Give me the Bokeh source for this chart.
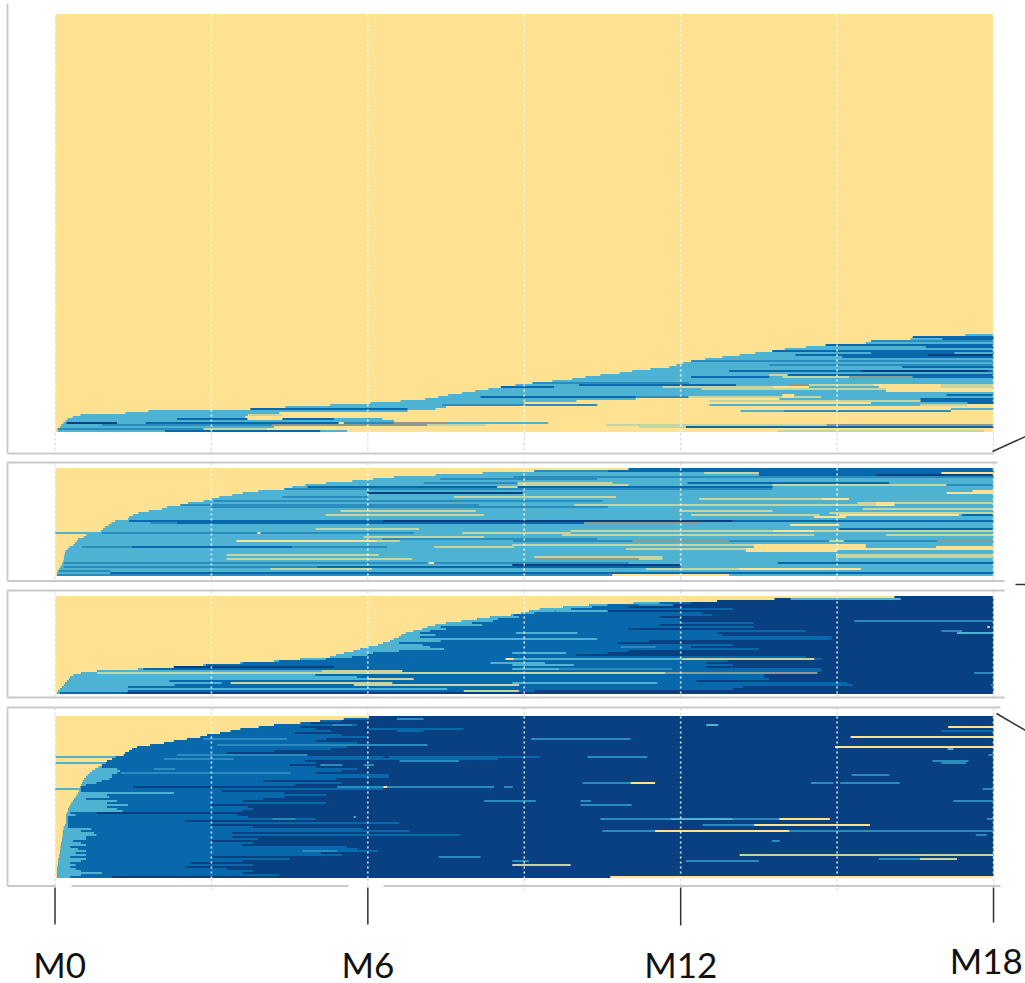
from bokeh.plotting import figure
from bokeh.models import Range1d, ColumnDataSource
from bokeh.core.properties import value
from bokeh.embed import file_html
from bokeh.resources import INLINE

# state colours
YEL, LIGHT, STRIPE, MID, DARK, SAGE, OLIVE = 0, 1, 2, 3, 4, 5, 6
state_colors = ["#FEE291", "#4EB3D3", "#2B8CBE", "#0868AC", "#084081", "#C6D4A0", "#8E9A8C"]

month_ticks = [0, 6, 12, 18]
month_labels = ["M0", "M6", "M12", "M18"]
minor_ticks = [3, 9, 15]

p1_full_rows = 159
p1_onset = [18.0,17.46,17.08,16.41,15.93,15.55,14.78,14.4,14.0,13.76,
            13.43,13.13,12.8,12.47,12.22,12.05,11.92,11.78,11.42,11.07,
            10.83,10.46,10.17,9.92,9.54,9.16,8.83,8.6,8.31,8.06,
            7.81,7.54,7.35,7.1,6.63,6.05,5.28,4.42,3.75,3.08,
            1.35,0.49,0.34,0.24,0.2,0.16,0.12,0.1,0.07,0.05]
p1_off = [18]*34 + [10.0,9.0,8.8,7.5,7.3,6.76,4.3,3.7,3.65,3.6,6.5,7.5,4.2,4.2,2.85,5.6]
p1_streaks = [
 (39,1.79,3.14,LIGHT),(38,3.75,6.76,MID),(32,8.16,11.14,MID),(36,7.43,10.4,STRIPE),
 (27,8.55,9.57,MID),(43,2.34,3.69,MID),(43,4.36,5.35,MID),(43,5.35,6.28,LIGHT),(41,3.72,4.36,SAGE),
 (45,0.22,1.19,DARK),(45,1.74,5.54,MID),(45,5.54,6.5,STRIPE),(45,6.5,7.52,OLIVE),(45,7.52,9.46,LIGHT),
 (45,5.44,5.54,YEL),(46,0.9,4.16,STRIPE),(46,4.16,7.14,OLIVE),(46,7.14,8.26,SAGE),
 (48,0.05,2.85,STRIPE),(48,2.85,4.07,SAGE),(49,2.11,5.09,MID),(49,5.09,5.57,LIGHT),
 (2,16.45,18,MID),(3,17.02,18,MID),(4,15.65,18,STRIPE),(6,14.78,18,MID),(7,16.7,18,MID),
 (9,13.76,18,MID),(10,15.65,18,MID),(10,17.25,18,LIGHT),(11,14.2,18,MID),(11,16.74,18,DARK),
 (12,15.1,18,MID),(14,12.2,18,STRIPE),(16,13.7,18,STRIPE),(17,16.25,18,MID),
 (19,12.93,18,MID),(19,15.46,17.9,DARK),(21,14.05,18,MID),(21,13.7,14.05,SAGE),
 (22,12.2,13.7,MID),(22,13.95,15.23,SAGE),(22,15.23,16.45,OLIVE),(22,16.45,18,MID),
 (25,9.16,12.16,STRIPE),(26,10.05,13.06,MID),(26,14.08,14.46,OLIVE),(26,14.46,15.68,SAGE),(26,15.68,17,YEL),(26,17,18,SAGE),
 (27,11.65,13.76,SAGE),(27,13.76,14.46,YEL),(27,15.8,17,YEL),(27,17,18,SAGE),
 (28,12.4,13.76,SAGE),(28,13.76,15.94,SAGE),(28,15.94,18,YEL),(29,15.94,18,YEL),
 (32,11.14,12.15,STRIPE),(32,12.15,13.95,SAGE),(32,13.95,14.18,YEL),(32,14.18,14.7,SAGE),(31,13.95,14.18,YEL),
 (31,17.1,18,MID),(33,11.14,13.89,YEL),(33,16.6,18,MID),(34,12.55,16.6,SAGE),(34,16.6,18,MID),
 (35,15.65,18,LIGHT),(35,17.5,18,MID),(36,12.55,16.6,LIGHT),(36,16.6,17.5,SAGE),
 (38,17.18,18,LIGHT),(39,13.15,17.18,LIGHT),(39,13.98,17.18,STRIPE),
 (46,10.57,11.66,SAGE),(46,11.66,14.8,SAGE),(46,14.8,18,OLIVE),(47,11.2,12.1,SAGE),(47,12.1,18,MID),
 (49,13.86,17.82,SAGE),
]

p2_onset = [11.0,9.19,8.2,7.3,6.5,6.1,5.7,5.2,4.8,4.55,4.4,3.9,3.6,3.4,3.15,3.0,2.85,2.55,2.4,2.15,
            2.05,1.8,1.6,1.5,1.42,1.4,1.15,1.08,1.03,0.96,0.92,0.88,0.75,0.6,0.55,0.44,0.42,0.38,0.35,0.28,
            0.24,0.2,0.19,0.18,0.17,0.17,0.16,0.14,0.13,0.1,0.08,0.05,0.04,0.04]
p2_streaks = [
 (5,7.39,10.4,STRIPE),(7,7.07,8.87,STRIPE),(9,4.84,13.76,MID),(10,4.4,13.76,STRIPE),(9,8.48,8.87,SAGE),
 (12,5.99,8.97,DARK),(14,4.36,5.99,STRIPE),(14,7.65,10.76,SAGE),(16,3.05,10.5,STRIPE),(18,2.41,8.13,STRIPE),
 (19,3.0,10.6,STRIPE),(21,5.48,8.07,SAGE),(23,5.19,8.23,SAGE),(26,1.42,2.34,MID),(26,2.34,6.28,MID),(26,6.28,13.0,DARK),
 (27,1.83,2.34,STRIPE),(27,2.34,10.15,MID),(30,5.0,6.98,SAGE),(32,0,0.9,LIGHT),(32,0.9,6.88,STRIPE),(32,3.88,3.94,YEL),(32,7.81,9.89,SAGE),
 (34,5.92,8.23,SAGE),(35,6.28,10.4,STRIPE),(36,3.48,6.18,YEL),(36,6.18,6.61,SAGE),(39,7.27,8.8,SAGE),
 (39,0.52,1.48,STRIPE),(39,1.48,4.55,MID),(39,4.55,6.37,STRIPE),(43,3.29,6.21,SAGE),(45,3.29,6.85,SAGE),
 (47,0.17,7.14,STRIPE),(47,7.17,7.27,YEL),(47,7.27,11.0,STRIPE),(49,0.17,5.03,STRIPE),(49,5.03,12.0,MID),
 (50,4.13,6.08,SAGE),(52,1.06,7.46,MID),(51,0.08,1.06,STRIPE),(52,7.46,18,MID),(53,0.04,10.69,STRIPE),
 (0,11.0,18,MID),(1,10.6,18,MID),(1,9.19,10.6,STRIPE),(2,13.5,18,MID),(2,12.45,13.5,SAGE),(3,13.5,18,MID),(3,15.74,18,DARK),
 (2,17.0,18,YEL),(4,8.8,18,STRIPE),(7,8.87,10.69,SAGE),(7,12.13,16.0,MID),(8,8.87,11.0,SAGE),(8,13.76,17.1,SAGE),(8,17.1,18,STRIPE),
 (11,17.6,18,YEL),(12,17.1,18,YEL),
 (15,12.35,14.7,SAGE),(15,14.7,15.23,YEL),(17,15.39,18,SAGE),(17,15.74,16.1,YEL),(18,9.96,15.74,SAGE),(18,15.74,16.1,YEL),
 (20,15.49,18,SAGE),(21,11.97,13.76,SAGE),(22,14.85,18,SAGE),(23,12.2,14.66,SAGE),(23,15.04,17.34,YEL),(23,17.4,18,MID),
 (24,14.56,15.17,YEL),(26,13.0,18,MID),(27,10.15,12.35,OLIVE),(28,14.1,15.04,YEL),(30,15.04,18,MID),
 (31,9.89,13.76,SAGE),(31,13.76,14.56,YEL),(31,14.56,18,SAGE),(33,9.73,13.54,SAGE),(33,13.54,14.56,SAGE),(33,15.94,18,SAGE),
 (36,8.78,11.08,STRIPE),(36,11.08,12.93,OLIVE),(36,12.93,14.85,STRIPE),(36,14.85,15.13,SAGE),(36,15.13,16.93,STRIPE),(36,16.93,18,OLIVE),
 (38,8.77,13.4,SAGE),(38,13.4,15.55,YEL),(39,13.4,15.55,YEL),(39,16.9,18,YEL),(40,10.95,13.25,SAGE),(40,13.25,18,YEL),(41,13.25,15.0,YEL),
 (43,14.98,18,SAGE),(44,14.98,18,SAGE),(44,9.19,11.65,SAGE),(45,9.19,11.2,OLIVE),(45,11.2,11.65,SAGE),
 (47,13.86,18,MID),(48,8.77,12.0,DARK),(50,11.33,13.12,SAGE),(50,13.12,15.46,YEL),(53,10.69,12.93,YEL),
]

p3_onset = [16.1,13.8,12.7,11.1,10.25,9.75,9.3,9.1,8.95,8.75,8.35,8.1,7.8,7.5,7.3,7.15,7.05,6.88,6.73,6.65,
            6.6,6.5,6.43,6.3,6.2,6.0,5.85,5.73,5.55,5.4,5.28,4.7,4.2,3.55,2.85,2.28,1.6,0.81,0.5,0.36,
            0.3,0.27,0.23,0.2,0.17,0.14,0.1,0.06,0.04]
p3_mid = [16.1,13.8,12.7,11.6,10.6,10.3,9.9,9.6,9.2,8.8,8.9,8.5,8.4,8.0,8.2,7.4,7.5,7.2,7.0,7.3,
          7.0,6.8,7.4,6.6,7.0,7.2,6.3,6.6,6.1,6.0,5.7,5.2,4.3,3.6,2.9,2.3,1.7,6.2,5.9,5.0,
          5.8,6.8,2.2,3.2,2.3,1.4,5.8,1.4,0.1]
p3_dark = [16.1,13.8,12.7,12.2,11.6,11.0,13.0,10.5,12.4,12.6,11.6,12.0,12.0,13.4,11.6,13.4,11.0,14.4,12.7,12.8,
           14.9,14.9,11.4,10.8,13.0,12.2,13.5,11.0,10.6,10.0,14.4,14.7,12.9,12.5,13.0,12.5,14.7,14.7,12.8,13.6,
           13.6,13.7,12.3,15.2,15.3,13.2,13.0,9.2,1.4]
p3_streaks = [
 (38,0.81,11.7,SAGE),(38,11.7,14.62,OLIVE),(37,5.12,6.66,SAGE),(41,5.99,6.88,SAGE),(43,3.37,6.47,SAGE),
 (44,5.73,8.9,SAGE),(47,7.84,8.9,SAGE),(31,8.64,8.8,YEL),(31,8.8,12.03,LIGHT),(31,12.03,14.56,SAGE),
 (35,2.28,5.35,DARK),(46,0.71,7.52,LIGHT),(14,7.3,8.1,LIGHT),(21,6.72,10.4,LIGHT),(24,6.2,7.05,LIGHT),(26,6.1,7.46,LIGHT),
 (33,8.35,9.4,LIGHT),(34,8.77,9.95,LIGHT),(7,9.6,10.6,LIGHT),(4,11.2,11.85,STRIPE),(1,14.11,16.22,LIGHT),(12,15.33,18,STRIPE),
 (18,8.84,10.02,LIGHT),(17,17.0,17.4,STRIPE),(18,17.3,18,LIGHT),(25,10.85,11.52,STRIPE),(28,8.77,9.8,LIGHT),(36,8.77,9.67,LIGHT),
 (36,9.67,11.84,STRIPE),(43,8.77,11.55,LIGHT),(38,17.63,18,STRIPE),(44,17.95,18,STRIPE),(48,1.38,8.78,DARK),(15,17.88,17.93,SAGE),
]

p4_onset = [6.02,5.54,5.09,4.71,4.2,3.91,3.56,3.37,3.17,2.92,2.79,2.53,2.28,2.09,1.83,1.58,1.48,1.42,1.35,1.32,
            1.16,1.1,1.0,0.97,0.9,0.84,0.78,0.71,0.67,0.63,0.6,0.57,0.54,0.52,0.51,0.49,0.48,0.46,0.44,0.42,
            0.4,0.37,0.35,0.32,0.3,0.28,0.26,0.25,0.23,0.22,0.22,0.22,0.21,0.21,0.2,0.17,0.17,0.16,0.16,0.15,
            0.15,0.14,0.14,0.12,0.12,0.11,0.11,0.1,0.1,0.09,0.09,0.07,0.07,0.06,0.06,0.05,0.05,0.05,0.04,0.04,0.04]
p4_mid = [6.02,5.54,5.09,4.71,4.2,3.91,3.56,3.37,3.17,2.92,2.79,2.53,2.28,2.09,1.83,1.58,1.48,1.42,1.35,1.32,
          1.16,1.1,1.0,0.97,0.9,0.9,1.2,1.25,1.2,1.1,1.1,1.05,0.9,0.8,0.6,0.5,0.5,0.5,0.9,1.0,
          1.05,0.6,1.2,1.0,1.4,1.0,1.2,1.3,0.3,0.4,0.25,0.25,0.25,0.25,0.25,0.25,0.7,0.5,0.75,0.8,
          0.6,0.6,0.35,0.5,0.6,0.3,0.45,0.6,0.4,0.6,0.3,0.6,0.5,0.3,0.4,0.3,0.4,0.5,0.9,0.5,0.3]
p4_dark = [6.02,6.02,5.5,4.9,5.8,4.7,5.0,5.3,4.6,5.5,6.0,5.2,5.0,5.8,7.0,5.6,5.3,4.2,3.3,4.4,
           6.3,8.5,4.8,5.0,4.5,5.0,5.8,5.5,5.0,6.4,5.0,5.4,4.0,5.5,4.6,1.5,6.3,3.2,4.4,5.2,
           4.4,4.0,3.6,5.2,3.0,3.7,3.8,3.6,0.8,3.5,3.7,5.0,2.5,6.5,3.0,3.8,5.9,6.8,3.4,7.4,
           3.4,3.9,3.0,3.8,3.6,5.6,5.8,6.2,5.1,5.5,3.0,4.5,3.6,2.6,3.8,2.5,3.3,3.8,3.6,4.3,1.1]
p4_streaks = [
 (20,0,1.16,LIGHT),(23,0,0.97,LIGHT),(36,0,0.48,LIGHT),
 (1,6.56,7.07,STRIPE),(4,5.32,5.7,STRIPE),(6,6.02,7.84,MID),(7,6.56,7.07,MID),(11,2.85,4.45,STRIPE),(14,3.11,7.14,STRIPE),
 (19,2.34,4.84,STRIPE),(20,6.4,9.3,MID),(21,2.09,3.43,STRIPE),(22,6.61,7.75,STRIPE),(24,5.09,5.51,STRIPE),(24,5.92,6.12,STRIPE),
 (26,1.9,2.31,STRIPE),(28,1.26,4.52,STRIPE),(30,3.96,6.4,MID),(35,5.41,8.42,STRIPE),(35,6.3,6.37,YEL),(35,8.61,8.78,STRIPE),
 (38,0.49,2.28,LIGHT),(42,8.23,9.22,STRIPE),(50,5.73,5.77,LIGHT),(51,4.17,4.61,STRIPE),(53,5.99,6.6,MID),(59,5.99,7.78,MID),
 (67,4.74,5.41,STRIPE),(70,7.36,8.16,STRIPE),
 (4,12.49,12.72,LIGHT),(5,17.13,18,YEL),(7,16.99,18,MID),(10,15.26,18,YEL),(11,9.13,11.04,STRIPE),(15,14.96,18,YEL),(16,17.12,17.23,LIGHT),
 (19,17.9,18,STRIPE),(20,10.21,11.36,STRIPE),(22,16.83,17.52,STRIPE),(23,17.0,17.47,STRIPE),(29,15.28,16.0,STRIPE),
 (33,10.12,11.04,STRIPE),(33,11.04,11.51,YEL),(33,14.5,14.93,STRIPE),(33,15.06,16.2,STRIPE),(36,17.79,18,STRIPE),
 (42,10.08,10.28,STRIPE),(42,17.23,18,STRIPE),(44,10.08,11.06,STRIPE),
 (51,10.46,11.81,STRIPE),(51,11.81,13.0,LIGHT),(51,13.0,13.89,STRIPE),(51,13.89,14.86,YEL),(51,17.87,18,STRIPE),
 (54,12.42,13.41,STRIPE),(54,13.41,15.63,YEL),(57,10.5,11.51,STRIPE),(57,11.51,14.09,YEL),(57,14.09,18,STRIPE),
 (59,17.66,17.87,STRIPE),(62,13.75,13.9,STRIPE),(69,13.13,18,SAGE),(71,15.8,16.59,STRIPE),(71,16.59,17.3,SAGE),
 (72,12.1,13.5,STRIPE),(72,8.77,9.09,STRIPE),(74,8.77,9.89,SAGE),(80,10.65,18,YEL),
]

# ---- layout (reference pixels) ----
ROW = 2.0
PX_PER_MONTH = 52.14
X0 = 54.5
W, H = 1025, 983
P1_TOP, P2_TOP, P3_TOP, P4_TOP = 13.5, 467.5, 595.5, 715.5

p = figure(width=W, height=H, output_backend="svg", toolbar_location=None,
           x_range=Range1d(-X0 / PX_PER_MONTH, (W - X0) / PX_PER_MONTH),
           y_range=Range1d(H, 0), min_border=0, outline_line_color=None)
p.axis.visible = False
p.grid.visible = False

L, R, T, B, C = [], [], [], [], []
def cell(top, r, a, b, s):
    if b <= a:
        return
    L.append(a); R.append(b)
    T.append(top + ROW * r); B.append(top + ROW * (r + 1))
    C.append(state_colors[s])

def backing(top, rows, s):
    L.append(0); R.append(18); T.append(top); B.append(top + ROW * rows); C.append(state_colors[s])

# big yellow block of panel 1
backing(P1_TOP, p1_full_rows + len(p1_onset), YEL)
p1_start = P1_TOP + ROW * p1_full_rows
for r, (on, off) in enumerate(zip(p1_onset, p1_off)):
    cell(p1_start, r, on, off, LIGHT)
for r, a, b, s in p1_streaks:
    cell(p1_start, r, a, b, s)

backing(P2_TOP, len(p2_onset), LIGHT)
for r, on in enumerate(p2_onset):
    cell(P2_TOP, r, 0, on, YEL)
for r, a, b, s in p2_streaks:
    cell(P2_TOP, r, a, b, s)

for top, onset, mid, dark, streaks in [(P3_TOP, p3_onset, p3_mid, p3_dark, p3_streaks),
                                       (P4_TOP, p4_onset, p4_mid, p4_dark, p4_streaks)]:
    backing(top, len(onset), DARK)
    for r, (on, m, d) in enumerate(zip(onset, mid, dark)):
        cell(top, r, 0, on, YEL)
        cell(top, r, on, m, LIGHT)
        cell(top, r, m, d, MID)
    for r, a, b, s in streaks:
        cell(top, r, a, b, s)

src = ColumnDataSource(dict(left=L, right=R, top=T, bottom=B, color=C))
p.quad(left="left", right="right", top="top", bottom="bottom", fill_color="color", line_color=None, source=src)

# month grid: white dots over the cells, grey dashes in panel margins
panel_bands = [(14, 432), (468, 576), (596, 694), (716, 878)]
margin_bands = [(432, 453), (462, 468), (576, 580), (590, 596), (694, 697), (707, 716), (878, 890)]
grid_months = [0, 3, 6, 9, 12, 15, 18]
for m in grid_months:
    for a, b in panel_bands:
        p.segment([m], [a], [m], [b], line_color="#ffffff", line_width=1.6, line_dash="2 3", line_alpha=0.85)
    for a, b in margin_bands:
        p.segment([m], [a], [m], [b], line_color="#dcdcdc", line_width=1.2, line_dash="3 2")

# panel frames
to_m = lambda x: (x - X0) / PX_PER_MONTH
frame_x0 = [7, 7, 7, 7, 7, 7, 7, 71, 383]
frame_x1 = [993, 997, 1004, 1004, 1004, 1000, 55, 348, 1000]
frame_y = [453, 462, 580.5, 590, 697, 707, 885.5, 885.5, 885.5]
p.segment([to_m(x) for x in frame_x0], frame_y, [to_m(x) for x in frame_x1], frame_y, line_color="#c9c9c9", line_width=1.8)
left_x = to_m(7)
p.segment([left_x]*4, [3, 462, 590, 707], [left_x]*4, [453, 580.5, 697, 885.5], line_color="#c9c9c9", line_width=1.8)

# month ticks and labels
tick_ends = [924, 924, 925, 922]
p.segment(month_ticks, [887]*4, month_ticks, tick_ends, line_color="#333333", line_width=1.5)
label_y = [963, 963, 963, 959]
label_x = [0.09, 0, 0, -0.14]
p.text([m + dx for m, dx in zip(month_ticks, label_x)], label_y, text=month_labels, text_font=value("Lato"),
       text_font_size="35px", text_color="#111111", text_align="center", text_baseline="middle")

# connector marks at right
p.segment([to_m(992), to_m(1015), to_m(996)], [451, 584, 713], [to_m(1025), to_m(1025), to_m(1025)], [436, 584, 730],
          line_color="#333333", line_width=1.5)

open("out.html", "w").write(file_html(p, INLINE))
